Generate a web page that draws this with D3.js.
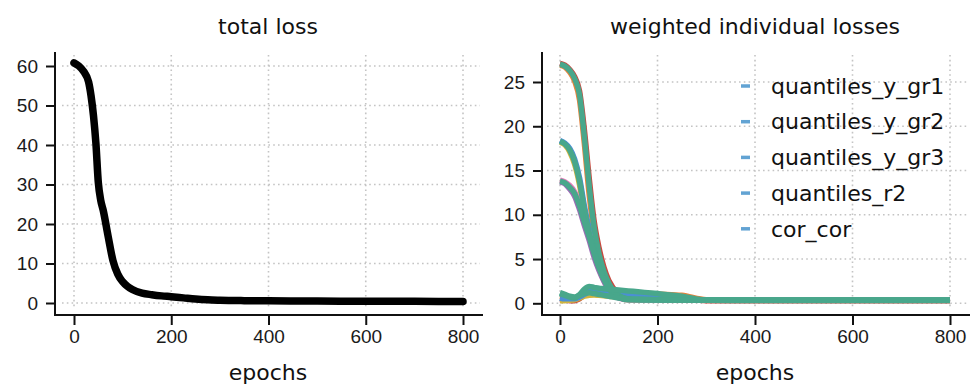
<!DOCTYPE html>
<html>
<head>
<meta charset="utf-8">
<script src="https://cdn.jsdelivr.net/npm/d3@7"></script>
<style>
  body { margin: 0; background: #fff; }
  svg { display: block; font-family: "DejaVu Sans", sans-serif; }
  .tick text { fill: #1a1a1a; }
</style>
</head>
<body>
<svg id="chart" width="979" height="389"></svg>
<script>
// ---- data ----
const xTicks = [0, 200, 400, 600, 800];
const lossTicks = [0, 10, 20, 30, 40, 50, 60];
const partTicks = [0, 5, 10, 15, 20, 25];

const lossEpochs = [0, 10, 20, 30, 35, 40, 45, 50, 55, 60, 70, 80, 90, 100, 110, 120, 140, 160, 180, 200, 225, 250, 275, 300, 350, 400, 500, 600, 700, 800];
const totalLoss = [60.8, 60.0, 58.6, 56.0, 52.5, 47.5, 40.5, 30.5, 26.0, 23.5, 17.0, 10.8, 7.3, 5.4, 4.2, 3.4, 2.5, 2.1, 1.8, 1.6, 1.3, 1.0, 0.8, 0.7, 0.6, 0.55, 0.5, 0.45, 0.42, 0.4];

const epochs = [0, 10, 20, 30, 40, 50, 60, 70, 80, 90, 100, 120, 140, 160, 200, 250, 300, 350, 400, 500, 600, 700, 800];

const quantilesYGr1 = [
  [26.9, 26.7, 26.1, 25.1, 23.0, 18.0, 12.2, 7.9, 5.0, 3.1, 1.9, 0.8, 0.45, 0.4, 0.4, 0.38, 0.36, 0.35, 0.35, 0.35, 0.35, 0.35, 0.35],
  [27.1, 26.9, 26.4, 25.6, 24.0, 19.6, 14.1, 9.3, 6.3, 4.1, 2.6, 1.1, 0.6, 0.5, 0.45, 0.42, 0.4, 0.38, 0.36, 0.35, 0.35, 0.35, 0.35],
  [27.0, 26.8, 26.3, 25.4, 23.6, 18.8, 13.2, 8.6, 5.6, 3.6, 2.3, 0.9, 0.5, 0.45, 0.42, 0.4, 0.38, 0.37, 0.36, 0.35, 0.35, 0.35, 0.35]
];
const quantilesYGr2 = [
  [18.2, 17.9, 17.1, 15.7, 13.4, 10.2, 7.6, 5.6, 3.9, 2.6, 1.6, 0.7, 0.4, 0.4, 0.38, 0.37, 0.36, 0.35, 0.35, 0.35, 0.35, 0.35, 0.35],
  [18.4, 18.1, 17.5, 16.3, 14.2, 11.0, 8.4, 6.4, 4.6, 3.1, 2.0, 0.9, 0.5, 0.45, 0.4, 0.38, 0.36, 0.35, 0.35, 0.35, 0.35, 0.35, 0.35],
  [18.3, 18.0, 17.3, 16.0, 13.8, 10.6, 8.0, 6.0, 4.2, 2.8, 1.8, 0.8, 0.45, 0.4, 0.4, 0.38, 0.36, 0.35, 0.35, 0.35, 0.35, 0.35, 0.35]
];
const quantilesYGr3 = [
  [13.7, 13.5, 12.9, 12.1, 10.6, 8.8, 7.1, 5.2, 3.7, 2.5, 1.5, 0.6, 0.4, 0.4, 0.38, 0.37, 0.36, 0.35, 0.35, 0.35, 0.35, 0.35, 0.35],
  [13.9, 13.7, 13.3, 12.6, 11.3, 9.6, 7.9, 6.0, 4.3, 2.9, 1.9, 0.8, 0.45, 0.42, 0.4, 0.38, 0.36, 0.35, 0.35, 0.35, 0.35, 0.35, 0.35],
  [13.8, 13.6, 13.1, 12.4, 11.0, 9.2, 7.5, 5.6, 4.0, 2.7, 1.7, 0.7, 0.4, 0.4, 0.38, 0.37, 0.36, 0.35, 0.35, 0.35, 0.35, 0.35, 0.35]
];
const quantilesR2 = [
  [0.8, 0.7, 0.6, 0.55, 0.8, 1.3, 1.6, 1.65, 1.6, 1.55, 1.5, 1.35, 1.25, 1.2, 1.05, 0.9, 0.4, 0.35, 0.35, 0.35, 0.35, 0.35, 0.35],
  [0.4, 0.35, 0.3, 0.3, 0.5, 0.9, 1.2, 1.3, 1.35, 1.4, 1.4, 1.3, 1.2, 1.1, 0.9, 0.6, 0.3, 0.3, 0.3, 0.3, 0.3, 0.3, 0.3],
  [1.1, 0.9, 0.7, 0.6, 1.0, 1.6, 1.9, 1.8, 1.7, 1.65, 1.6, 1.5, 1.4, 1.3, 1.1, 0.8, 0.35, 0.33, 0.33, 0.33, 0.33, 0.33, 0.33]
];
const corCor = [
  [0.3, 0.3, 0.35, 0.4, 0.6, 0.8, 0.9, 0.95, 0.9, 0.85, 0.8, 0.7, 0.65, 0.6, 0.5, 0.4, 0.35, 0.35, 0.35, 0.35, 0.35, 0.35, 0.35],
  [0.6, 0.5, 0.5, 0.5, 0.7, 1.0, 1.3, 1.5, 1.5, 1.45, 1.4, 1.2, 1.0, 0.9, 0.7, 0.5, 0.35, 0.35, 0.35, 0.35, 0.35, 0.35, 0.35],
  [1.2, 1.0, 0.8, 0.7, 0.9, 1.1, 1.2, 1.1, 1.0, 0.9, 0.8, 0.6, 0.5, 0.45, 0.4, 0.38, 0.35, 0.35, 0.35, 0.35, 0.35, 0.35, 0.35]
];
const legendNames = ['quantiles_y_gr1', 'quantiles_y_gr2', 'quantiles_y_gr3', 'quantiles_r2', 'cor_cor'];

// ---- drawing ----
const svg = d3.select('#chart');
const underColors = ['#e8823a', '#c9483f', '#d1b43c', '#4b8fd4', '#9b6bb5', '#e07ab8'];
const topColor = '#48a78b';

function panel(p) {
  const g = svg.append('g');
  // grid
  g.append('g').selectAll('line').data(p.yTicks).enter().append('line')
    .attr('x1', p.box[0]).attr('x2', p.box[1])
    .attr('y1', d => p.y(d)).attr('y2', d => p.y(d))
    .attr('stroke', '#c4c4c4').attr('stroke-width', 1.6).attr('stroke-dasharray', '1.6,3.2');
  g.append('g').selectAll('line').data(xTicks).enter().append('line')
    .attr('y1', p.box[2]).attr('y2', p.box[3])
    .attr('x1', d => p.x(d)).attr('x2', d => p.x(d))
    .attr('stroke', '#c4c4c4').attr('stroke-width', 1.6).attr('stroke-dasharray', '1.6,3.2');

  // axes
  const yAxis = d3.axisLeft(p.y).tickValues(p.yTicks).tickSize(9).tickPadding(8).tickSizeOuter(0);
  const xAxis = d3.axisBottom(p.x).tickValues(xTicks).tickSize(10).tickPadding(5).tickSizeOuter(0);
  g.append('g').attr('transform', 'translate(' + p.spineX + ',0)').call(yAxis)
    .call(a => a.select('.domain').remove())
    .call(a => a.selectAll('.tick line').attr('stroke', '#111').attr('stroke-width', 2))
    .call(a => a.selectAll('.tick text').attr('font-size', 19));
  g.append('g').attr('transform', 'translate(0,' + p.spineY + ')').call(xAxis)
    .call(a => a.select('.domain').remove())
    .call(a => a.selectAll('.tick line').attr('stroke', '#111').attr('stroke-width', 2))
    .call(a => a.selectAll('.tick text').attr('font-size', 19));
  g.append('line').attr('x1', p.spineX).attr('x2', p.spineX).attr('y1', p.box[2] - 3).attr('y2', p.spineY + 1)
    .attr('stroke', '#111').attr('stroke-width', 2);
  g.append('line').attr('x1', p.spineX - 1).attr('x2', p.box[1] + 3).attr('y1', p.spineY).attr('y2', p.spineY)
    .attr('stroke', '#111').attr('stroke-width', 2);

  g.append('text').attr('x', p.cx).attr('y', 34).attr('text-anchor', 'middle')
    .attr('font-size', 22).attr('fill', '#111').text(p.title);
  g.append('text').attr('x', p.cx).attr('y', 380).attr('text-anchor', 'middle')
    .attr('font-size', 22).attr('fill', '#111').text('epochs');
  return g;
}

// left panel: total loss
const x1 = d3.scaleLinear().domain([0, 800]).range([74, 463]);
const y1 = d3.scaleLinear().domain([0, 60]).range([303, 66]);
const g1 = panel({ x: x1, y: y1, yTicks: lossTicks, box: [62, 480, 55, 307], spineX: 55, spineY: 315, cx: 268, title: 'total loss' });
const line1 = d3.line().x((d, i) => x1(lossEpochs[i])).y(d => y1(d)).curve(d3.curveMonotoneX);
g1.append('path').datum(totalLoss).attr('d', line1)
  .attr('fill', 'none').attr('stroke', '#000').attr('stroke-width', 7.5)
  .attr('stroke-linecap', 'round').attr('stroke-linejoin', 'round');

// right panel: weighted individual losses
const x2 = d3.scaleLinear().domain([0, 800]).range([560, 950]);
const y2 = d3.scaleLinear().domain([0, 25]).range([303.3, 82]);
const g2 = panel({ x: x2, y: y2, yTicks: partTicks, box: [547, 967, 55, 307], spineX: 542, spineY: 315, cx: 755, title: 'weighted individual losses' });
const line2 = d3.line().x((d, i) => x2(epochs[i])).y(d => y2(d)).curve(d3.curveMonotoneX);
const groups = [quantilesYGr1, quantilesYGr2, quantilesYGr3, quantilesR2, corCor];

// lines underneath in cycling colours, last column of each group drawn on top in teal
let ci = 0;
groups.forEach(grp => {
  grp.slice(0, -1).forEach(s => {
    g2.append('path').datum(s).attr('d', line2)
      .attr('fill', 'none').attr('stroke', underColors[ci++ % underColors.length])
      .attr('stroke-width', 5.5).attr('stroke-linejoin', 'round');
  });
});
groups.forEach(grp => {
  g2.append('path').datum(grp[grp.length - 1]).attr('d', line2)
    .attr('fill', 'none').attr('stroke', topColor)
    .attr('stroke-width', 5.5).attr('stroke-linejoin', 'round');
});

// legend
const leg = g2.append('g').attr('transform', 'translate(741,86)');
const rows = leg.selectAll('g').data(legendNames).enter().append('g')
  .attr('transform', (d, i) => 'translate(0,' + i * 35.7 + ')');
rows.append('line').attr('x1', 0).attr('x2', 9).attr('y1', 0).attr('y2', 0)
  .attr('stroke', '#62a3d3').attr('stroke-width', 3.5);
rows.append('text').attr('x', 30).attr('y', 0).attr('dy', '0.35em')
  .attr('font-size', 22).attr('fill', '#111').text(d => d);
</script>
</body>
</html>
